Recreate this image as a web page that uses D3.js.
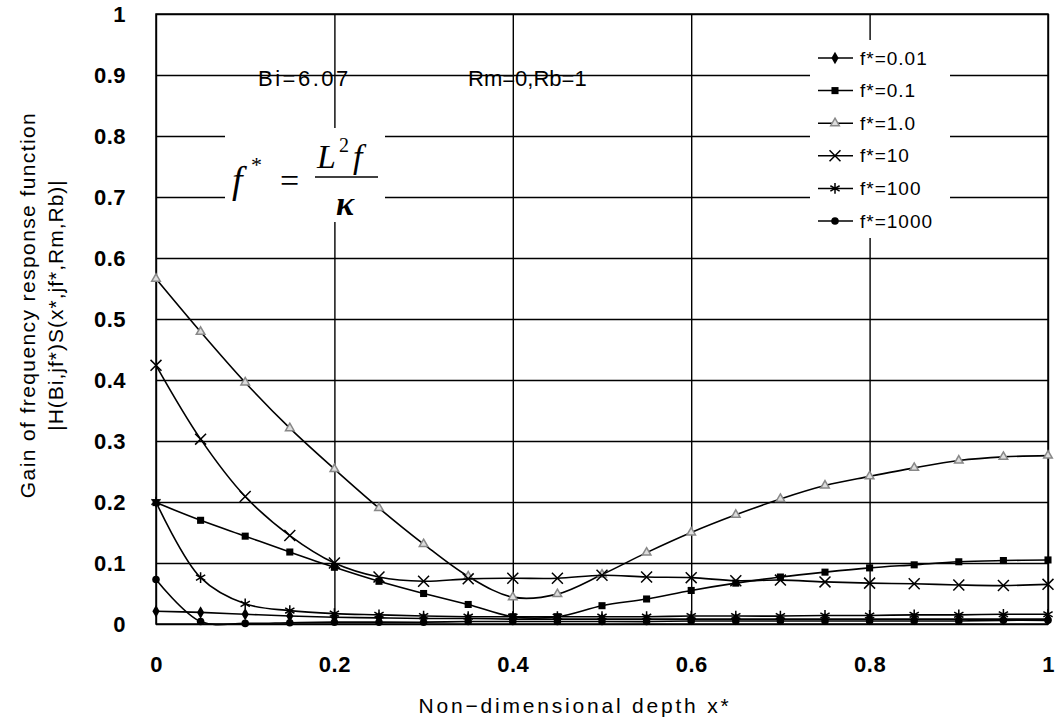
<!DOCTYPE html>
<html>
<head>
<meta charset="utf-8">
<title>Gain of frequency response function</title>
<script src="https://cdnjs.cloudflare.com/ajax/libs/d3/7.8.5/d3.min.js"></script>
<style>
 body { margin: 0; background: white; }
 text { font-family: "Liberation Sans", Arial, sans-serif; fill: black; }
 .tick text { font-size: 22px; font-weight: bold; letter-spacing: 0.5px; }
 .tick line { stroke: black; stroke-width: 1.4px; }
 .domain { display: none; }
 .series { fill: none; stroke: black; stroke-width: 1.6px; }
 .legend text { font-size: 19px; letter-spacing: 1px; }
 .formula { font-family: "Liberation Serif", "Times New Roman", serif; font-style: italic; }
</style>
</head>
<body>
<svg id="viz" width="1055" height="725"></svg>
<script>

// non-dimensional depth x*
var depths = [0, 0.05, 0.1, 0.15, 0.2, 0.25, 0.3, 0.35, 0.4, 0.45, 0.5,
              0.55, 0.6, 0.65, 0.7, 0.75, 0.8, 0.85, 0.9, 0.95, 1.0];

var seriesNames = ["f*=0.01", "f*=0.1", "f*=1.0", "f*=10", "f*=100", "f*=1000"];

var gain001 = [0.021, 0.019, 0.016, 0.013, 0.011, 0.010, 0.009, 0.009, 0.008, 0.008, 0.008,
               0.008, 0.008, 0.008, 0.008, 0.008, 0.008, 0.008, 0.008, 0.008, 0.008];
var gain01  = [0.199, 0.170, 0.144, 0.118, 0.093, 0.070, 0.050, 0.032, 0.012, 0.012, 0.030,
               0.041, 0.055, 0.067, 0.077, 0.085, 0.092, 0.097, 0.102, 0.104, 0.105];
var gain1   = [0.566, 0.479, 0.396, 0.321, 0.254, 0.190, 0.131, 0.078, 0.044, 0.049, 0.081,
               0.117, 0.150, 0.179, 0.205, 0.227, 0.242, 0.256, 0.268, 0.274, 0.276];
var gain10  = [0.424, 0.303, 0.209, 0.145, 0.100, 0.077, 0.070, 0.074, 0.075, 0.075, 0.080,
               0.077, 0.076, 0.071, 0.072, 0.069, 0.067, 0.066, 0.064, 0.063, 0.065];
var gain100 = [0.200, 0.076, 0.033, 0.022, 0.017, 0.015, 0.013, 0.012, 0.012, 0.012, 0.012,
               0.012, 0.013, 0.013, 0.013, 0.014, 0.014, 0.015, 0.015, 0.016, 0.016];
var gain1000 = [0.073, 0.004, 0.001, 0.002, 0.003, 0.003, 0.003, 0.004, 0.004, 0.004, 0.004,
                0.004, 0.005, 0.005, 0.005, 0.005, 0.005, 0.005, 0.005, 0.006, 0.006];

var xTicks = [0, 0.2, 0.4, 0.6, 0.8, 1];
var xTickLabels = ["0", "0.2", "0.4", "0.6", "0.8", "1"];
var yTicks = [0, 0.1, 0.2, 0.3, 0.4, 0.5, 0.6, 0.7, 0.8, 0.9, 1];
var yTickLabels = ["0", "0.1", "0.2", "0.3", "0.4", "0.5", "0.6", "0.7", "0.8", "0.9", "1"];

var allGains = [gain001, gain01, gain1, gain10, gain100, gain1000];

// marker look for each series
var markerStyle = [
  { type: d3.symbolDiamond, size: 45, fill: "black", stroke: "none" },
  { type: d3.symbolSquare, size: 50, fill: "black", stroke: "none" },
  { type: d3.symbolTriangle, size: 32, fill: "#ddd", stroke: "#888" },
  { type: d3.symbolTimes, size: 80, fill: "none", stroke: "black" },
  { type: d3.symbolAsterisk, size: 80, fill: "none", stroke: "black" },
  { type: d3.symbolCircle, size: 45, fill: "black", stroke: "none" }
];

function draw() {

  var svg = d3.select("#viz");

  var pLeft = 156, pTop = 14, pRight = 1048, pBottom = 624;
  var w = pRight - pLeft, h = pBottom - pTop;

  var x = d3.scaleLinear().domain([0, 1]).range([pLeft, pRight]);
  var y = d3.scaleLinear().domain([0, 1]).range([pBottom, pTop]);

  // gridlines + tick labels

  svg.append("g")
    .attr("transform", "translate(" + pLeft + ",0)")
    .call(d3.axisLeft(y).tickValues(yTicks).tickSize(-w).tickPadding(30)
          .tickFormat(function(d, i) { return yTickLabels[i]; }));

  svg.append("g")
    .attr("transform", "translate(0," + pBottom + ")")
    .call(d3.axisBottom(x).tickValues(xTicks).tickSize(-h).tickPadding(32)
          .tickFormat(function(d, i) { return xTickLabels[i]; }));

  svg.append("rect")
    .attr("x", pLeft).attr("y", pTop).attr("width", w).attr("height", h)
    .attr("fill", "none").attr("stroke", "black").attr("stroke-width", 1.5);

  // annotations

  svg.append("text").attr("x", 258).attr("y", 86)
    .style("font-size", "22px").style("letter-spacing", "2.5px").text("Bi=6.07");
  svg.append("text").attr("x", 468).attr("y", 86)
    .style("font-size", "22px").text("Rm=0,Rb=1");

  var fg = svg.append("g");
  fg.append("rect").attr("x", 225).attr("y", 128).attr("width", 160).attr("height", 94).attr("fill", "white");
  fg.append("text").attr("class", "formula").attr("x", 232).attr("y", 193)
    .style("font-size", "38px").text("f");
  fg.append("text").attr("class", "formula").attr("x", 251).attr("y", 172)
    .style("font-size", "22px").style("font-style", "normal").text("*");
  fg.append("text").attr("x", 280).attr("y", 192)
    .style("font-family", "Liberation Serif").style("font-size", "34px").text("=");
  fg.append("line").attr("x1", 315).attr("x2", 378).attr("y1", 177).attr("y2", 177)
    .attr("stroke", "black").attr("stroke-width", 1.5);
  fg.append("text").attr("class", "formula").attr("x", 317).attr("y", 168)
    .style("font-size", "34px").text("L");
  fg.append("text").attr("x", 339).attr("y", 152)
    .style("font-family", "Liberation Serif").style("font-size", "20px").text("2");
  fg.append("text").attr("class", "formula").attr("x", 353).attr("y", 168)
    .style("font-size", "34px").text("f");
  fg.append("text").attr("class", "formula").attr("x", 345).attr("y", 215)
    .attr("text-anchor", "middle").style("font-size", "34px").style("font-weight", "bold").text("κ");

  // series

  var line = d3.line()
    .x(function(d) { return x(d[0]); })
    .y(function(d) { return y(d[1]); })
    .curve(d3.curveCatmullRom.alpha(0.5));

  allGains.forEach(function(g, k) {
    var pts = depths.map(function(d, i) { return [d, g[i]]; });
    svg.append("path").attr("class", "series").attr("d", line(pts));
    var st = markerStyle[k];
    svg.selectAll(null).data(pts).enter().append("path")
      .attr("transform", function(d) { return "translate(" + x(d[0]) + "," + y(d[1]) + ")"; })
      .attr("d", d3.symbol().type(st.type).size(st.size))
      .attr("fill", st.fill).attr("stroke", st.stroke).attr("stroke-width", 1.5);
  });

  // legend

  var lg = svg.append("g").attr("class", "legend");
  lg.append("rect").attr("x", 810).attr("y", 40).attr("width", 140).attr("height", 198).attr("fill", "white");
  seriesNames.forEach(function(name, k) {
    var ly = 58 + k * 32.6;
    var st = markerStyle[k];
    lg.append("line").attr("x1", 818).attr("x2", 853).attr("y1", ly).attr("y2", ly)
      .attr("stroke", "black").attr("stroke-width", 1.5);
    lg.append("path").attr("transform", "translate(835," + ly + ")")
      .attr("d", d3.symbol().type(st.type).size(st.size))
      .attr("fill", st.fill).attr("stroke", st.stroke).attr("stroke-width", 1.5);
    lg.append("text").attr("x", 860).attr("y", ly).attr("dy", "0.35em").text(name);
  });

  // axis titles

  svg.append("text")
    .attr("transform", "translate(35,305) rotate(-90)")
    .attr("text-anchor", "middle").style("font-size", "21px").style("letter-spacing", "1.4px")
    .text("Gain of frequency response function");
  svg.append("text")
    .attr("transform", "translate(63,305) rotate(-90)")
    .attr("text-anchor", "middle").style("font-size", "21px").style("letter-spacing", "1px")
    .text("|H(Bi,jf*)S(x*,jf*,Rm,Rb)|");

  svg.append("text")
    .attr("x", 575).attr("y", 713)
    .attr("text-anchor", "middle").style("font-size", "21px").style("letter-spacing", "2.8px")
    .text("Non−dimensional depth x*");
}

draw();

</script>
</body>
</html>
